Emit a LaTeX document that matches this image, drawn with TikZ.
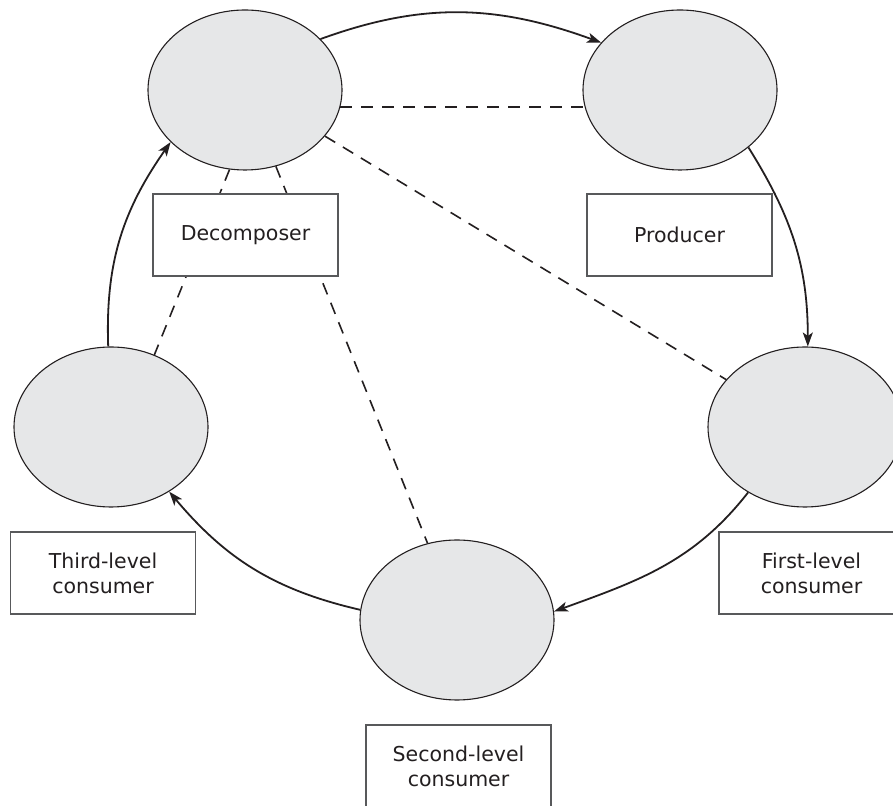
\documentclass[tikz,border=0pt]{standalone}
\usepackage{fontspec}
\setmainfont{DejaVu Sans}
\usetikzlibrary{arrows.meta,shapes.geometric}
\definecolor{ellfill}{HTML}{E6E7E8}
\definecolor{boxline}{HTML}{58595B}
\definecolor{ink}{HTML}{231F20}
\begin{document}
\begin{tikzpicture}[x=1pt,y=1pt,
  eco/.style={ellipse, draw=ink, line width=1.1pt, fill=ellfill,
    minimum width=194pt, minimum height=160pt, inner sep=0pt},
  labelbox/.style={rectangle, draw=boxline, line width=1.6pt, fill=white,
    minimum width=185pt, minimum height=82pt, align=center,
    font=\fontsize{20.5}{25}\selectfont, text=ink, inner sep=0pt},
  flow/.style={draw=ink, line width=1.8pt,
    -{Stealth[length=14pt,width=10pt,inset=3.5pt]}},
  link/.style={draw=ink, line width=1.6pt, dash pattern=on 12pt off 9pt}]
\useasboundingbox (0,0) rectangle (893,805);

% ellipses
\node[eco] (dec)    at (245,715) {};
\node[eco] (prod)   at (680,715) {};
\node[eco] (first)  at (805,378) {};
\node[eco] (second) at (457,185) {};
\node[eco] (third)  at (111,378) {};

% dashed links
\draw[link] (dec.-10) -- (prod.190);
\draw[link] (dec.-30) -- (first.149);
\draw[link] (dec.259) -- (third.59);
\draw[link] (dec.292) -- (second.111);

% label boxes
\node[labelbox] (decbox)    at (245.5,570) {Decomposer};
\node[labelbox] (prodbox)   at (679.5,570) {Producer};
\node[labelbox] (thirdbox)  at (103,232)   {Third-level\\consumer};
\node[labelbox] (firstbox)  at (811.5,232) {First-level\\consumer};
\node[labelbox] (secondbox) at (458.5,39)  {Second-level\\consumer};

% flow arrows
\draw[flow] (dec.34) to[out=20,in=160] (prod.149);
\draw[flow] (prod.-40) to[out=-58,in=90] (first.88);
\draw[flow] (first.229) to[out=232,in=20] (second.5);
\draw[flow] (second.174) to[out=167,in=-50] (third.312);
\draw[flow] (third.92) to[out=92,in=-125] (dec.215);
\end{tikzpicture}
\end{document}
